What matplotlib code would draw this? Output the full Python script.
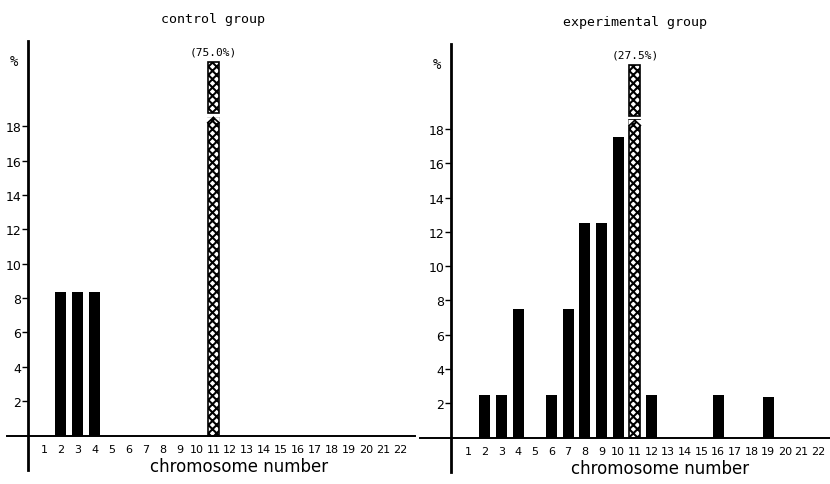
import numpy as np
import matplotlib
matplotlib.use("Agg")
import matplotlib.pyplot as plt
from matplotlib.patches import Polygon

# === Data ===
chromosomes = list(range(1, 23))
control = [0, 8.33, 8.33, 8.33, 0, 0, 0, 0, 0, 0, 75.0,
           0, 0, 0, 0, 0, 0, 0, 0, 0, 0, 0]
experimental = [0, 2.5, 2.5, 7.5, 0, 2.5, 7.5, 12.5, 12.5, 17.5, 27.5,
                2.5, 0, 0, 0, 2.5, 0, 0, 2.4, 0, 0, 0]
titles = ["control group", "experimental group"]
highlight = 11          # chromosome drawn hatched and broken
yticks = [2, 4, 6, 8, 10, 12, 14, 16, 18]

# === Layout (pixels) ===
W, H = 830, 485
CAP = 21.7              # drawn height of the broken bar
SHOULDER, TIP, UPPER = 18.2, 18.5, 18.75
BAR_W = 0.66

plt.rcParams["hatch.linewidth"] = 1.5

def px_axes(fig, left, top, right, bottom):
    return fig.add_axes([left / W, 1 - bottom / H, (right - left) / W, (bottom - top) / H])

fig = plt.figure(figsize=(W / 100, H / 100), dpi=100)

panels = [
    dict(box=(7, 42, 415, 471), xlim=(-1.18, 22.9), spine=0.06, vals=control),
    dict(box=(420, 45, 830, 473), xlim=(-1.88, 22.7), spine=-0.02, vals=experimental),
]

for p, title in zip(panels, titles):
    ax = px_axes(fig, *p["box"])
    ax.set_xlim(*p["xlim"])
    ax.set_ylim(-2.0, 22.95)
    vals = np.array(p["vals"])

    solid = [v if c != highlight else 0 for c, v in zip(chromosomes, vals)]
    ax.bar(chromosomes, solid, width=BAR_W, color="black", zorder=2)

    # broken, cross-hatched bar
    idx = chromosomes.index(highlight)
    ax.bar(highlight, TIP, width=BAR_W, color="white", edgecolor="black",
           hatch="xxxx", linewidth=1.2, zorder=2)
    ax.bar(highlight, CAP - UPPER, bottom=UPPER, width=BAR_W,
           color="white", edgecolor="black", hatch="xxxx", linewidth=1.2, zorder=2)
    hw = BAR_W / 2 + 0.05
    for side in (-1, 1):
        ax.add_patch(Polygon([(highlight + side * hw, SHOULDER),
                              (highlight, TIP + 0.02),
                              (highlight + side * hw, TIP + 0.02)],
                             closed=True, facecolor="white", edgecolor="none", zorder=3))
        ax.plot([highlight + side * BAR_W / 2, highlight], [SHOULDER, TIP],
                color="black", lw=1.2, zorder=4)
    ax.text(highlight, CAP + 0.35, f"({vals[idx]:.1f}%)", ha="center", va="bottom",
            fontsize=8, family="DejaVu Sans Mono")

    # spines
    for s in ("top", "right"):
        ax.spines[s].set_visible(False)
    ax.spines["left"].set_position(("data", p["spine"]))
    ax.spines["bottom"].set_position(("data", 0))
    ax.spines["left"].set_linewidth(2.0)
    ax.spines["bottom"].set_linewidth(1.4)

    ax.set_xticks(chromosomes)
    ax.set_xticklabels([str(c) for c in chromosomes], fontsize=8)
    ax.tick_params(axis="x", length=0, pad=6)
    ax.set_yticks(yticks)
    ax.set_yticklabels([str(t) for t in yticks], fontsize=9)
    ax.tick_params(axis="y", length=4, width=1, pad=1, direction="out")

    ax.text(p["spine"] - 0.85, 21.8, "%", ha="center", va="center", fontsize=10,
            family="DejaVu Sans Mono")
    ax.text(highlight, 22.95 + 1.3, title, ha="center", va="center", fontsize=9.5,
            family="DejaVu Sans Mono", clip_on=False)
    ax.text(12.5, -1.75, "chromosome number", ha="center", va="center", fontsize=12)

fig.savefig("out.png", dpi=100)
